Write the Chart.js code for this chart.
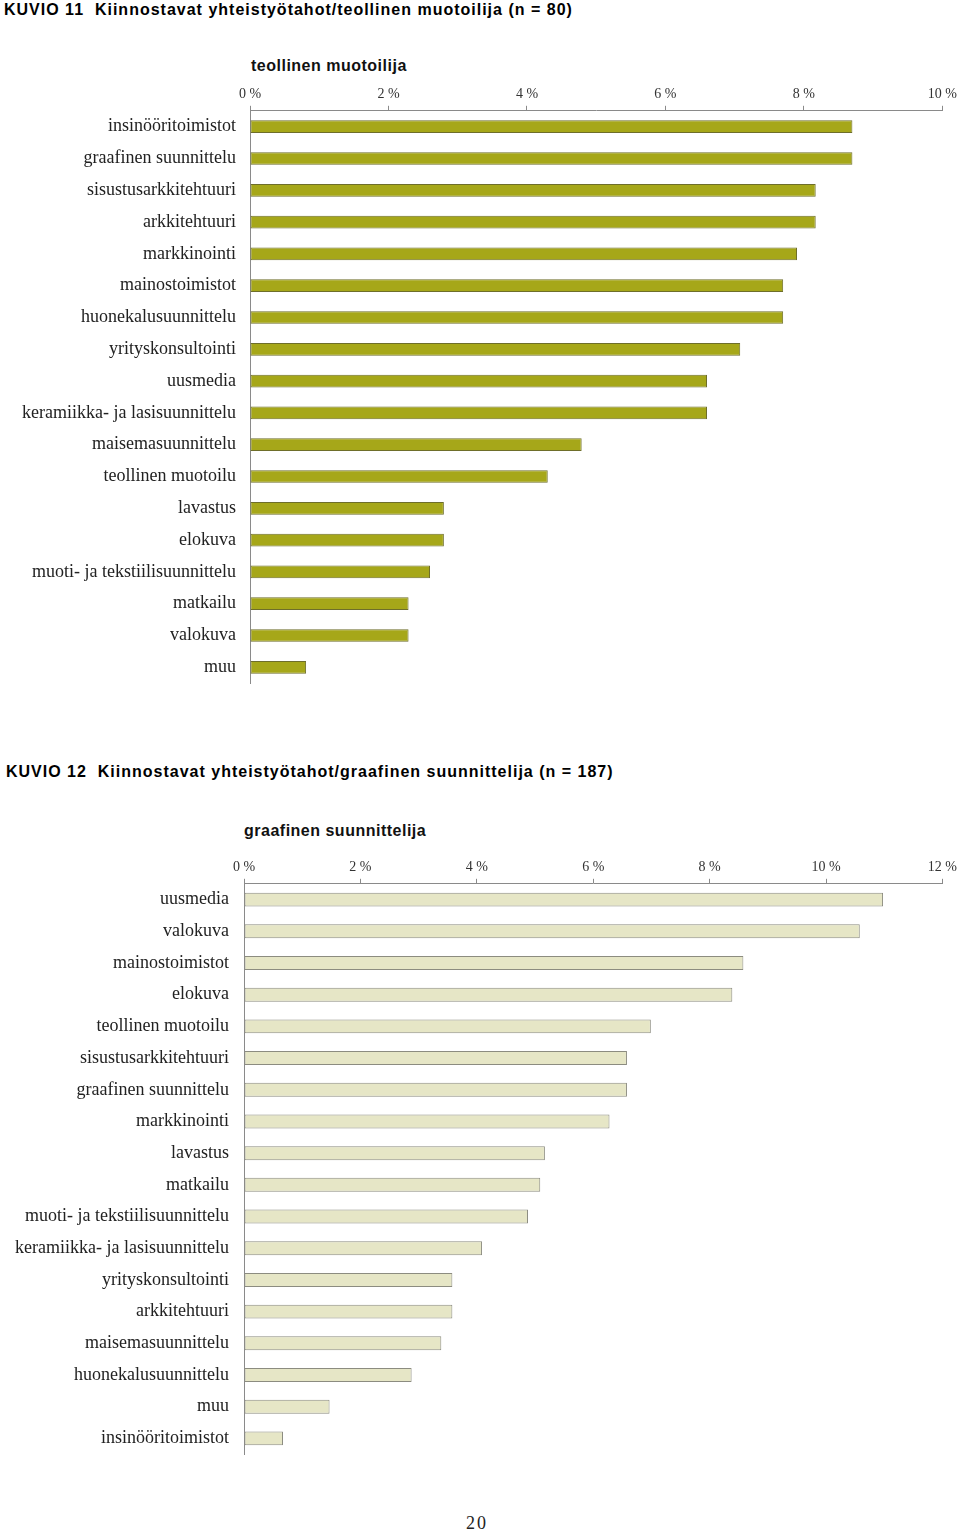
<!doctype html>
<html lang="fi">
<head>
<meta charset="utf-8">
<script src="https://cdn.jsdelivr.net/npm/chart.js"></script>
<style>
	body { margin: 0; background: #fff; width: 960px; height: 1534px; position: relative; overflow: hidden; }
	.kuvio { position: absolute; font: bold 16px "Liberation Sans", Arial, sans-serif; letter-spacing: 1px; color: #000; white-space: pre; }
	.otsikko { position: absolute; font: bold 16px "Liberation Sans", Arial, sans-serif; letter-spacing: 0.5px; color: #111; }
	.box { position: absolute; left: 0; width: 960px; height: 628px; }
	.sivu { position: absolute; left: 466px; top: 1513px; font: 18px "Liberation Serif", serif; letter-spacing: 2px; color: #222; }
</style>
</head>
<body>
	<div class="kuvio" style="left:4px; top:1px;">KUVIO 11  Kiinnostavat yhteistyötahot/teollinen muotoilija (n = 80)</div>
	<div class="otsikko" style="left:251px; top:57px;">teollinen muotoilija</div>
	<div class="box" style="top:80px;"><canvas id="chart-tm"></canvas></div>

	<div class="kuvio" style="left:6px; top:763px;">KUVIO 12  Kiinnostavat yhteistyötahot/graafinen suunnittelija (n = 187)</div>
	<div class="otsikko" style="left:244px; top:822px;">graafinen suunnittelija</div>
	<div class="box" style="top:852px;"><canvas id="chart-gs"></canvas></div>

	<div class="sivu">20</div>

<script>
	/*------- teollinen muotoilija (n = 80) -------*/
	var tmLabels = ['insinööritoimistot', 'graafinen suunnittelu', 'sisustusarkkitehtuuri', 'arkkitehtuuri',
		'markkinointi', 'mainostoimistot', 'huonekalusuunnittelu', 'yrityskonsultointi', 'uusmedia',
		'keramiikka- ja lasisuunnittelu', 'maisemasuunnittelu', 'teollinen muotoilu', 'lavastus', 'elokuva',
		'muoti- ja tekstiilisuunnittelu', 'matkailu', 'valokuva', 'muu'];
	var tmValues = [8.70, 8.70, 8.17, 8.17, 7.90, 7.70, 7.70, 7.08, 6.60, 6.60, 4.79, 4.30, 2.80, 2.80, 2.60, 2.29, 2.29, 0.81];
	var tmTicks = [0, 2, 4, 6, 8, 10];

	/*------- graafinen suunnittelija (n = 187) -------*/
	var gsLabels = ['uusmedia', 'valokuva', 'mainostoimistot', 'elokuva', 'teollinen muotoilu', 'sisustusarkkitehtuuri',
		'graafinen suunnittelu', 'markkinointi', 'lavastus', 'matkailu', 'muoti- ja tekstiilisuunnittelu',
		'keramiikka- ja lasisuunnittelu', 'yrityskonsultointi', 'arkkitehtuuri', 'maisemasuunnittelu',
		'huonekalusuunnittelu', 'muu', 'insinööritoimistot'];
	var gsValues = [10.98, 10.58, 8.58, 8.39, 6.99, 6.58, 6.58, 6.28, 5.17, 5.09, 4.88, 4.09, 3.58, 3.58, 3.39, 2.88, 1.47, 0.67];
	var gsTicks = [0, 2, 4, 6, 8, 10, 12];

	// yhteinen asetus molemmille kaavioille
	function makeChart(id, labels, values, ticks, opts) {
		return new Chart(document.getElementById(id), {
			type: 'bar',
			data: {
				labels: labels,
				datasets: [{
					data: values,
					backgroundColor: opts.fill,
					borderColor: opts.border,
					borderWidth: 1,
					borderSkipped: false,
					barPercentage: opts.bar,
					categoryPercentage: 1
				}]
			},
			options: {
				indexAxis: 'y',
				responsive: true,
				maintainAspectRatio: false,
				animation: false,
				layout: { padding: opts.padding },
				plugins: { legend: { display: false }, tooltip: { enabled: false } },
				scales: {
					x: {
						position: 'top',
						min: 0,
						max: ticks[ticks.length - 1],
						afterBuildTicks: function (s) { s.ticks = ticks.map(function (v) { return { value: v }; }); },
						ticks: {
							padding: 3,
							color: '#333',
							font: { family: 'Liberation Serif', size: 14 },
							callback: function (v) { return v + ' %'; }
						},
						grid: { drawOnChartArea: false, tickLength: 5, color: '#8a8a8a' },
						border: { color: '#8a8a8a' }
					},
					y: {
						afterFit: function (s) { s.width = opts.left; },
						ticks: {
							padding: opts.labelPad,
							color: '#222',
							font: { family: 'Liberation Serif', size: 18 }
						},
						grid: { display: false, drawTicks: false },
						border: { color: '#8a8a8a' }
					}
				}
			}
		});
	}

	makeChart('chart-tm', tmLabels, tmValues, tmTicks, {
		fill: '#a6a719', border: '#6e6e2a', bar: 0.40,
		left: 250, labelPad: 14,
		padding: { top: 3, right: 12, bottom: 6, left: 0 }
	});

	makeChart('chart-gs', gsLabels, gsValues, gsTicks, {
		fill: '#e6e6c6', border: '#8c8c80', bar: 0.44,
		left: 244, labelPad: 15,
		padding: { top: 4, right: 14, bottom: 7, left: 0 }
	});
</script>
</body>
</html>
